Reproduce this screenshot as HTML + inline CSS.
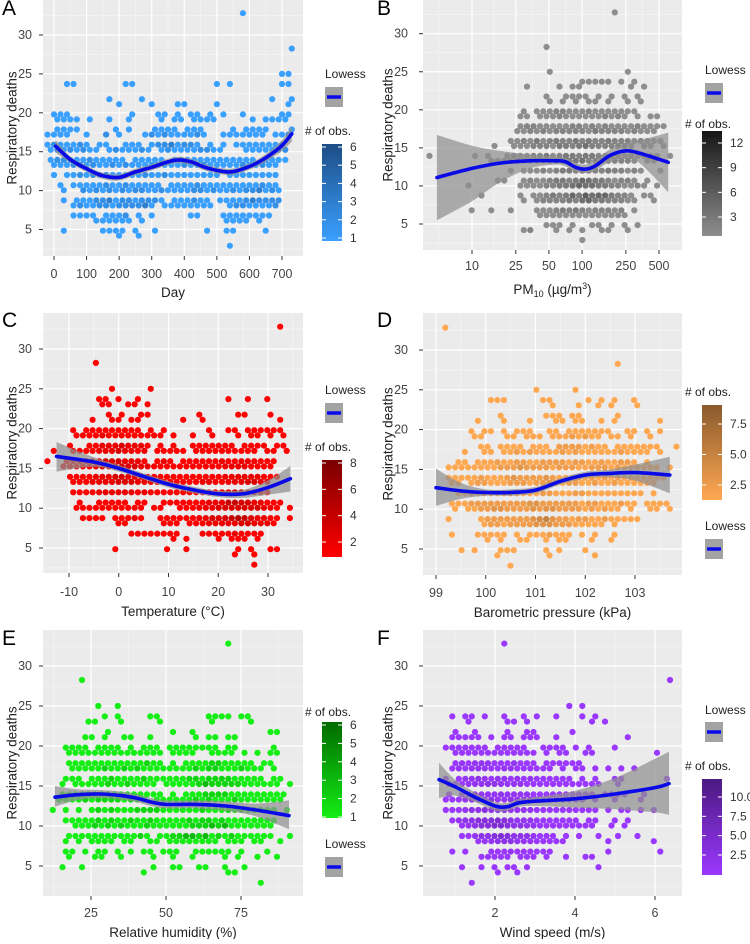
<!DOCTYPE html>
<html><head><meta charset="utf-8"><style>
html,body{margin:0;padding:0;background:#fff;}
svg text{font-family:"Liberation Sans",Arial,sans-serif;}
</style></head><body>
<svg id="fig" width="750" height="939" viewBox="0 0 750 939" xmlns="http://www.w3.org/2000/svg"></svg>
<script>
// ---------- DATA (each string = hex cells along x, digit = # of obs.) ----------
const aDeaths=[33,28,25,24,22,21,20,19,18,17,16,15,14,13,12,11,10,9,8,7,6,5,4,3];
const aCells=[
"..............................1.......",
".....................................1",
"....................................11",
"...11.......11............1.1.......11",
".........1....1...................1..1",
"...........1....1...11....1..........1",
".111.........1...11.1.11.1.1..1.....11",
".1111.1..1..1....1.11.1111.....1.1111",
".1111.....1.1...1111.111....1.1111...1",
"1111..1..2.1...1212111121..1111111.112",
"1211121.11..111.12231221.1.1.11111112",
"12121211.1211121.1211112211...1111112",
"122111211111.11111.1111111111111.1111",
".11122121121211111111211211111211211",
".1.112121211111211211111111.11111111",
"..1.11111211211111.11112111111111211",
"..1..2121212122112111122121121223121",
"..1.11122312212221.111211.1111232222",
"....1211221222231.11111111..12211112",
"....1111.1112.1.1.....11...11111111",
".......111111.1............1111.1",
"..1.....1111.1..1.......1..11....1",
"...........1..1",
"............................1"];
const aLoX=[5,50,100,150,200,250,300,370,420,470,540,600,650,700,730];
const aLoY=[15.7,14,12.8,11.9,11.7,12.4,13,13.9,13.7,12.9,12.4,13.1,14.2,15.8,17.3];
const aLoLo=[14.9,13.6,12.4,11.5,11.3,12,12.6,13.5,13.3,12.5,12,12.7,13.7,15.1,16.3];
const aLoHi=[16.5,14.4,13.2,12.3,12.1,12.8,13.4,14.3,14.1,13.3,12.8,13.5,14.7,16.5,18.3];

const bDeaths=[33,28,25,24,23,22,21,20,19,18,17,16,15,14,13,12,11,10,9,8,7,6,5,4,3];
const bCells=[
".............................1..........",
"..................1.....................",
"...................1...........1........",
"........................11111.1.1.......",
"...............1....1.11.......1.1......",
"..................1..1111.1.1.1.1.......",
"...................1.1.1.11.1..1.1......",
"...............1.1112211121111111.......",
"..............11.11121111112121.1.11....",
"..............12211111221212111121111...",
"..............1121212222213222212111....",
".............112131232232322322212111...",
"..........1..1112221332342222231.21.1...",
"1......1.1..121122312332332222121111.1..",
"..........11111222123333422322221.11....",
".............1.1112123323222322121..1...",
"...........11..121123323543321221.1.....",
"......1.......11112233454433221121.1....",
"........1.....1.1123235364553221.11.....",
"...............1.1222232453322211..1....",
".......1..1..1...11123232122212.1.......",
".................11111111111111.........",
"..................111.1..11.1.1.1.......",
"...............12...1.1.1..11..1........",
"........................1..............."];
const bLoX=[4.8,10,18,33.7,56.9,70,86,106,131,179,246,334,606];
const bLoY=[11.1,12.3,13,13.3,13.3,13.2,12.5,12.2,12.6,14,14.6,14.3,13.1];
const bLoLo=[5.5,8,10.5,12.3,12.8,12.6,12,11.7,12,13.2,13.6,13,9.2];
const bLoHi=[16.7,15.3,14.6,14.1,13.8,13.7,13.1,12.8,13.3,14.8,15.6,16,17];

const cDeaths=[33,28,25,24,23,22,21,20,19,18,17,16,15,14,13,12,11,10,9,8,7,6,5,4,3];
const cCells=[
"....................................1",
".......1",
"..........1.....1",
"........11.1..1.............1..1..1",
"........11..11.1",
".........1.1..11.......1.....11...1",
".......1..11.11......1..1...........1",
"....1.111111111.1.1......1..11.111111",
"....11112111111111.1..1..1...1.11.1.1",
"...1..1122232221.1.1..1111111.1111.11",
".1..111122232212.11111.1111111111.11.1",
"1..1121223332221.121.111111211221111",
"..111112223333221111111111122221111",
"...111122233222211111111111222222111",
"....1112222333222111111122112223322",
"....1111222222121111111111122343221",
".....1..11111.11..1111111222443322111",
"....11111111111.11..1112223333333221.1",
".....1111.11121..1111112233345432211.1",
"...........11.....111.11122222332221",
".............11111111...1111121111",
"...................1.1....1.111.1",
"..........1.......1..1.......1.1..11",
".............................1..1",
"................................1"];
const cLoX=[-12.5,-5,0,5,10,15,20,25,30,34.5];
const cLoY=[16.5,15.8,15,14,13,12.3,11.8,11.8,12.6,13.7];
const cLoLo=[14.6,15.2,14.6,13.6,12.6,11.9,11.4,11.3,11.7,12.1];
const cLoHi=[18.3,16.4,15.4,14.4,13.4,12.7,12.2,12.3,13.5,15.3];

const dDeaths=[33,28,25,24,23,22,21,20,19,18,17,16,15,14,13,12,11,10,9,8,7,6,5,4,3];
const dCells=[
"...1....................................",
".............................1..........",
".................1.....1................",
"..........111.....11.....1.1.1..1.......",
"...................1...1..1.1...1.......",
"...........1......111.11.....1..........",
"........1...1...1...11.11..1.1......1...",
".......1.11.1.111..11.1111111..11.1.1...",
".......11...11.111.11121211.11.1..1.....",
"........11.1111.111.22221211.1111111..1.",
"......1..11.11212111121211111121111.1...",
".....11.1112112211222212211211221.1.....",
"...111111112223222212221122212111111.1..",
"...1111121112322223211121212121211111...",
"....11.12211122212231122112112111111....",
".....11212211221112211122111111111.1....",
"....11122222222233222222122111211.1111..",
"....1.112233222232332222121211.1..11.1..",
"...1....1222222234532212211211111.......",
".........1221222233322211111.1..........",
"....1...11111.1.1112111.1.1..1..........",
".........1.1..11..1.11...1..1...........",
".....1.1...111....1.1...1...............",
"...........1.......1......1.............",
".............1.........................."];
const dLoX=[99,99.5,100,100.5,101,101.5,102,102.5,103,103.7];
const dLoY=[12.7,12.3,12.1,12.1,12.4,13.5,14.3,14.5,14.6,14.3];
const dLoLo=[10.4,11.3,11.7,11.7,12,13.1,13.9,14,13.6,12];
const dLoHi=[15.1,13.3,12.5,12.5,12.8,13.9,14.7,15,15.6,16.6];

const eDeaths=[33,28,25,24,23,22,21,20,19,18,17,16,15,14,13,12,11,10,9,8,7,6,5,4,3];
const eCells=[
"............................1...........",
".....1..................................",
"........1..1............................",
".........1.1....11.......1111.11........",
"......11...1.....1.......1.....1........",
".........1.........1..1...........11....",
"......11.1..11..1......1.11.11..........",
"...1111.1111.1.111.11111111.11.....1....",
"...111111111111111.1111..1111.1.1.11....",
"...111111111111211.1.11112211111.11.....",
"....111112112121111111121221112111.1....",
"...111.111211112111111221222211111.11...",
"..1.1111121121111.111112322222111111.1..",
"..1111111111111111.1.1112222111111111...",
"..11112122221211.11111121211121111111...",
".1.1.1.12121112222111111211121211111.1..",
"...111112121121121111121221211111111....",
"....1112121211121111112223231111111.....",
"...1111111111121.112233231212111111..1..",
"...1.1.1111.11..11.11111111.111.11..1...",
"...11.1.11.1.1.11.111..111111.1...1.....",
"...1...11..1....1..1..1....1.1..1..1....",
"..1..1..........1..11..11..1..1.........",
"...............1............11..........",
".................................1......"];
const eLoX=[13,20,28,35,40,45,50,60,70,80,91];
const eLoY=[13.6,13.9,14,13.8,13.5,13,12.7,12.7,12.5,12,11.3];
const eLoLo=[12.4,13.2,13.5,13.3,13,12.5,12.2,12.2,11.9,11.2,9.6];
const eLoHi=[15,14.6,14.5,14.3,14,13.5,13.2,13.2,13.1,12.8,13.2];

const fDeaths=[33,28,25,24,23,22,21,20,19,18,17,16,15,14,13,12,11,10,9,8,7,6,5,4,3];
const fCells=[
"............1...........................",
".....................................1..",
"......................1.1...............",
"....1.11.1..1..1.1..1...1.1.............",
"......1.....11.1.........1.1............",
"....1..1....1..11.....1.................",
"....11111.1.11.111..1..........1........",
"...1111111.11111..1111.1.1...1..........",
"....1111111111111.1.11..11.........1....",
"....1212221112111.111111................",
"....1212221122111111.1.11.1.1.1.1.......",
"...1.122321221212111111.1.1..11......1..",
"...111222332222111111111111..1..........",
"...1.122222322221111111111.1111..1......",
"...1112322322322211111111.1..1...1......",
"...111233433322221111111111.1.11.1.1....",
"....12334445432221111111.11..1.1........",
".....123445543322111111111..1.1.........",
".....112334543332111.1.1..1..1..1.......",
"........12233322211111......1......1....",
"....1.1...1112111111........1.......1...",
"........11111.111.1..1..11..............",
".....1..1.1.11.1..........1.............",
"...........1..1.........................",
".......1................................"];
const fLoX=[0.6,1,1.5,2,2.3,2.6,3,4,5,6,6.35];
const fLoY=[15.8,14.9,13.6,12.5,12.4,12.9,13.1,13.4,14,14.8,15.3];
const fLoLo=[13.5,13.8,13,11.9,11.9,12.4,12.5,12.3,12.1,11.7,11.4];
const fLoHi=[17.9,15.8,14.2,13,12.9,13.4,13.6,14.4,16,18.4,19.3];

// ---------- RENDERING ----------
const NS='http://www.w3.org/2000/svg';
const svg=document.getElementById('fig');
function mk(tag,attrs,parent){const e=document.createElementNS(NS,tag);for(const k in attrs)e.setAttribute(k,attrs[k]);(parent||svg).appendChild(e);return e;}
function hex2rgb(h){return [1,3,5].map(i=>parseInt(h.substr(i,2),16));}
function mix(a,b,t){const A=hex2rgb(a),B=hex2rgb(b);return 'rgb('+A.map((v,i)=>Math.round(v+(B[i]-v)*t)).join(',')+')';}
function catmull(pts){let d='';for(let i=0;i<pts.length-1;i++){const p0=pts[Math.max(0,i-1)],p1=pts[i],p2=pts[i+1],p3=pts[Math.min(pts.length-1,i+2)];
 const c1=[p1[0]+(p2[0]-p0[0])/6,p1[1]+(p2[1]-p0[1])/6],c2=[p2[0]-(p3[0]-p1[0])/6,p2[1]-(p3[1]-p1[1])/6];
 d+=' C'+c1[0].toFixed(1)+','+c1[1].toFixed(1)+' '+c2[0].toFixed(1)+','+c2[1].toFixed(1)+' '+p2[0].toFixed(1)+','+p2[1].toFixed(1);}return d;}

const panels=[
 {key:'a',letter:'A',L:43,R:303,T:0,B:256,y30:35,y5:229.5,lx:[0,700],px:[54,282],log:false,bin0:-30,binW:20,
  xt:[0,100,200,300,400,500,600,700],xm:[50,150,250,350,450,550,650],xtitle:'Day',tlab:278,ttl:297,ylab:32,ytitle:12,
  deaths:aDeaths,cells:aCells,lx_:aLoX,ly:aLoY,llo:aLoLo,lhi:aLoHi,c0:'#3aa0ff',c1:'#1d4d86',vmax:6,
  leg:{x:322,lowY:78,keyY:87,obsY:135,barT:144,barB:241,ticks:[1,2,3,4,5,6],tLo:[1,238],tHi:[6,147]}},
 {key:'b',letter:'B',L:423,R:682,T:0,B:250,y30:33.7,y5:224,lx:[10,500],px:[472,659],log:true,bin0:0.5545,binW:0.05909,
  xt:[10,25,50,100,250,500],xm:[5,15.8,35.4,70.7,158,354],xtitle:'PM',tlab:270,ttl:294,ylab:408,ytitle:388,
  deaths:bDeaths,cells:bCells,lx_:bLoX,ly:bLoY,llo:bLoLo,lhi:bLoHi,c0:'#8e8e8e',c1:'#161616',vmax:13.5,
  leg:{x:702,lowY:74,keyY:83,obsY:128,barT:131,barB:236,ticks:[3,6,9,12],tLo:[3,217],tHi:[12,143]}},
 {key:'c',letter:'C',L:43,R:303,T:313,B:573,y30:349,y5:548,lx:[-10,30],px:[69,268],log:false,bin0:-15,binW:1.3,
  xt:[-10,0,10,20,30],xm:[-15,-5,5,15,25,35],xtitle:'Temperature (°C)',tlab:596,ttl:616,ylab:32,ytitle:12,
  deaths:cDeaths,cells:cCells,lx_:cLoX,ly:cLoY,llo:cLoLo,lhi:cLoHi,c0:'#ff0000',c1:'#7a0000',vmax:8.2,
  leg:{x:322,lowY:394,keyY:403,obsY:451,barT:460,barB:557,ticks:[2,4,6,8],tLo:[2,542],tHi:[8,463]}},
 {key:'d',letter:'D',L:423,R:682,T:313,B:575,y30:350,y5:549,lx:[99,103],px:[436,635],log:false,bin0:98.73,binW:0.1308,
  xt:[99,100,101,102,103],xm:[98.5,99.5,100.5,101.5,102.5,103.5],xtitle:'Barometric pressure (kPa)',tlab:597,ttl:617,ylab:408,ytitle:388,
  deaths:dDeaths,cells:dCells,lx_:dLoX,ly:dLoY,llo:dLoLo,lhi:dLoHi,c0:'#ffa852',c1:'#8a5a2c',vmax:9,
  leg:{x:702,lowY:530,keyY:539,obsY:396,barT:405,barB:500,ticks:[2.5,5,7.5],tLo:[2.5,485],tHi:[7.5,424],fmt:1}},
 {key:'e',letter:'E',L:43,R:303,T:630,B:896,y30:666,y5:866,lx:[25,75],px:[91,241],log:false,bin0:9,binW:2.167,
  xt:[25,50,75],xm:[12.5,37.5,62.5,87.5],xtitle:'Relative humidity (%)',tlab:917,ttl:937,ylab:32,ytitle:12,
  deaths:eDeaths,cells:eCells,lx_:eLoX,ly:eLoY,llo:eLoLo,lhi:eLoHi,c0:'#14ee14',c1:'#006a00',vmax:6,
  leg:{x:322,lowY:848,keyY:857,obsY:716,barT:722,barB:818,ticks:[1,2,3,4,5,6],tLo:[1,817],tHi:[6,725]}},
 {key:'f',letter:'F',L:423,R:682,T:630,B:896,y30:666,y5:866,lx:[2,6],px:[495,655],log:false,bin0:0.2,binW:0.1625,
  xt:[2,4,6],xm:[1,3,5],xtitle:'Wind speed (m/s)',tlab:917,ttl:937,ylab:408,ytitle:388,
  deaths:fDeaths,cells:fCells,lx_:fLoX,ly:fLoY,llo:fLoLo,lhi:fLoHi,c0:'#9b38ff',c1:'#4b1a80',vmax:12.3,
  leg:{x:702,lowY:714,keyY:722,obsY:770,barT:779,barB:875,ticks:[2.5,5,7.5,10],tLo:[2.5,855],tHi:[10,797],fmt:1}}
];

panels.forEach(p=>{
 const g=mk('g',{});
 
 
 const tr=v=>p.log?Math.log10(v):v;
 const xs=v=>p.px[0]+(tr(v)-tr(p.lx[0]))/(tr(p.lx[1])-tr(p.lx[0]))*(p.px[1]-p.px[0]);
 const ys=v=>p.y30+(30-v)/25*(p.y5-p.y30);
 const unbin=u=>p.log?Math.pow(10,u):u;
 const bg=mk('rect',{x:p.L,y:p.T,width:p.R-p.L,height:p.B-p.T,fill:'#ebebeb'},g);
 
 
 [2.5,7.5,12.5,17.5,22.5,27.5,32.5].forEach(v=>{const y=ys(v);if(y>p.T&&y<p.B)mk('line',{x1:p.L,x2:p.R,y1:y,y2:y,stroke:'#f7f7f7','stroke-width':0.6},g);});
 p.xm.forEach(v=>{const x=xs(v);if(x>p.L&&x<p.R)mk('line',{x1:x,x2:x,y1:p.T,y2:p.B,stroke:'#f7f7f7','stroke-width':0.6},g);});
 [5,10,15,20,25,30].forEach(v=>{const y=ys(v);mk('line',{x1:p.L,x2:p.R,y1:y,y2:y,stroke:'#fff','stroke-width':1.2},g);
   mk('line',{x1:p.L-4,x2:p.L,y1:y,y2:y,stroke:'#333','stroke-width':1},g);
   const t=mk('text',{x:p.ylab,y:y+4,'font-size':12.5,fill:'#444','text-anchor':'end'},g);t.textContent=v;
   
   });
 p.xt.forEach(v=>{const x=xs(v);mk('line',{x1:x,x2:x,y1:p.T,y2:p.B,stroke:'#fff','stroke-width':1.2},g);
   mk('line',{x1:x,x2:x,y1:p.B,y2:p.B+4,stroke:'#333','stroke-width':1},g);
   const t=mk('text',{x:x,y:p.tlab,'font-size':12.5,fill:'#444','text-anchor':'middle'},g);t.textContent=v;
   
   });
 const cp=mk('clipPath',{id:'clip'+p.key},g);mk('rect',{x:p.L,y:p.T,width:p.R-p.L,height:p.B-p.T},cp);
 const hg=mk('g',{'clip-path':'url(#clip'+p.key+')'},g);
 
 
 p.deaths.forEach((d,i)=>{
   const row=Math.round((d-2.9)/0.65);const off=(row%2)?0.5:0;
   const s=p.cells[i];
   for(let c=0;c<s.length;c++){const ch=s[c];if(ch==='.')continue;const n=parseInt(ch,10);
     const cx=xs(unbin(p.bin0+(c+0.5+off)*p.binW)),cy=ys(2.9+row*0.65);
     const h=mk('circle',{cx:cx.toFixed(1),cy:cy.toFixed(1),r:3.1,fill:mix(p.c0,p.c1,Math.min(1,(n-1)/(p.vmax-1)))},hg);
     
     
   }});
 const up=p.lx_.map((x,i)=>[xs(x),ys(p.lhi[i])]),lo=p.lx_.map((x,i)=>[xs(x),ys(p.llo[i])]).reverse();
 const band=mk('path',{d:'M'+up[0][0]+','+up[0][1]+catmull(up)+' L'+lo[0][0]+','+lo[0][1]+catmull(lo)+'Z',fill:'#8f8f8f','fill-opacity':0.72},hg);
 
 
 const ln=p.lx_.map((x,i)=>[xs(x),ys(p.ly[i])]);
 const line=mk('path',{d:'M'+ln[0][0]+','+ln[0][1]+catmull(ln),fill:'none',stroke:'#0a0ae6','stroke-width':3.6,'stroke-linecap':'round'},hg);
 
 
 const lt=mk('text',{x:p.L<100?2:377,y:p.T<5?15:(p.T<400?327:645),'font-size':21,fill:'#000'},g);lt.textContent=p.letter;
 
 
 const cy=(p.T+p.B)/2;
 const yt=mk('text',{x:p.ytitle,y:cy,'font-size':13.5,fill:'#222','text-anchor':'middle',transform:'rotate(-90 '+p.ytitle+' '+cy+')','dominant-baseline':'central'},g);yt.textContent='Respiratory deaths';
 
 
 const xt=mk('text',{x:(p.L+p.R)/2,y:p.ttl,'font-size':13.5,fill:'#222','text-anchor':'middle'},g);
 if(p.xtitle==='PM'){xt.innerHTML='PM<tspan font-size="9" dy="3">10</tspan><tspan dy="-3"> (µg/m</tspan><tspan font-size="9" dy="-5">3</tspan><tspan dy="5">)</tspan>';}else xt.textContent=p.xtitle;
 
 
 const L=p.leg;
 const t1=mk('text',{x:L.x+3,y:L.lowY,'font-size':12,fill:'#222'},g);t1.textContent='Lowess';
 
 
 const kb=mk('rect',{x:L.x+3,y:L.keyY,width:18,height:20,fill:'#a3a3a3'},g);
 
 
 mk('line',{x1:L.x+5,x2:L.x+19,y1:L.keyY+10,y2:L.keyY+10,stroke:'#0a0ae6','stroke-width':3.5},g);
 const t2=mk('text',{x:L.x-17,y:L.obsY,'font-size':12,fill:'#222'},g);t2.textContent='# of obs.';
 
 
 const gid='grad'+p.key;const gr=mk('linearGradient',{id:gid,x1:0,y1:1,x2:0,y2:0},g);
 mk('stop',{offset:0,'stop-color':p.c0},gr);mk('stop',{offset:1,'stop-color':p.c1},gr);
 const bar=mk('rect',{x:L.x,y:L.barT,width:20,height:L.barB-L.barT,fill:'url(#'+gid+')'},g);
 
 
 L.ticks.forEach(v=>{const y=L.tLo[1]+(v-L.tLo[0])/(L.tHi[0]-L.tLo[0])*(L.tHi[1]-L.tLo[1]);
   mk('line',{x1:L.x,x2:L.x+4,y1:y,y2:y,stroke:'#fff','stroke-width':1},g);mk('line',{x1:L.x+16,x2:L.x+20,y1:y,y2:y,stroke:'#fff','stroke-width':1},g);
   const t=mk('text',{x:L.x+28,y:y+4,'font-size':12,fill:'#333'},g);t.textContent=L.fmt?v.toFixed(1):v;
   
   });
});
</script>
</body></html>
